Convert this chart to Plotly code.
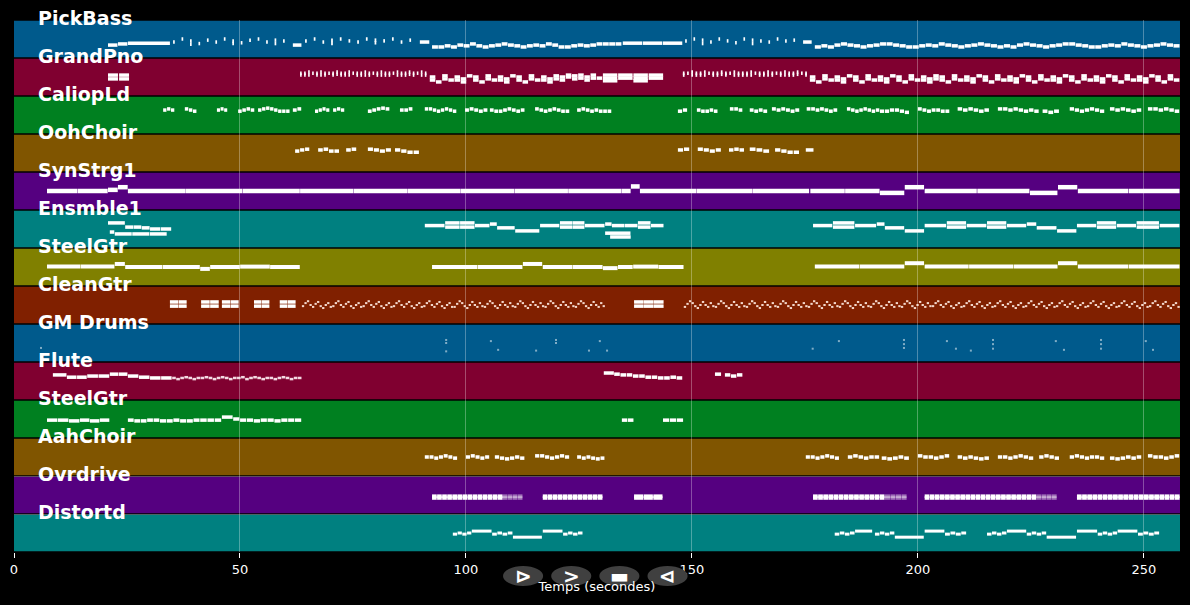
import plotly.graph_objects as go

# ---------------- data ----------------
TRACK_NAMES = ["PickBass", "GrandPno", "CaliopLd", "OohChoir", "SynStrg1", "Ensmble1", "SteelGtr",
               "CleanGtr", "GM Drums", "Flute", "SteelGtr", "AahChoir", "Ovrdrive", "Distortd"]
BAND_COLORS = ["#005a8c", "#800030", "#008020", "#805500", "#550080", "#008080", "#808000",
               "#802000", "#005a8c", "#800030", "#008020", "#805500", "#550080", "#008080"]
X_MAX = 258
X_TICKS = [0, 50, 100, 150, 200, 250]
X_TITLE = "Temps (secondes)"
BUTTON_LABELS = ["⊳", ">", "▬", "⊲"]

# phrases: (start s, end s, fill, pitches) ; pitch = height inside band (0..1), list = chord, None = rest
BASS_RUN_A = [0.29, 0.29, 0.32, 0.29, 0.34, 0.32, 0.37, 0.32, 0.29, 0.32, 0.34, 0.37, 0.34, 0.32, 0.29,
              0.32, 0.34, 0.32, 0.37, 0.34, 0.29, 0.29, 0.32, 0.34, 0.32, 0.34, 0.37, 0.37, 0.37, 0.37]
BASS_RUN_B = [0.29, 0.32, 0.29, 0.34, 0.37, 0.34, 0.32, 0.29, 0.32, 0.34, 0.37, 0.37, 0.34, 0.32,
              0.29, 0.29, 0.32, 0.34, 0.32, 0.37, 0.34, 0.32, 0.29, 0.32, 0.34, 0.37, 0.34, 0.32,
              0.29, 0.32, 0.29, 0.34, 0.37, 0.34, 0.32, 0.29, 0.32, 0.34, 0.37, 0.37, 0.34, 0.32,
              0.29, 0.29, 0.32, 0.34, 0.32, 0.37, 0.34, 0.32, 0.29, 0.32, 0.34, 0.37, 0.34, 0.32]
PICKBASS = [
    (20.8, 25.2, 0.95, [0.34, 0.37]),
    (25.2, 34.5, 1.0, [0.39]),
    (35.2, 61.4, 0.2, [0.42, 0.5, [0.45, 0.36], 0.38, 0.47, 0.42, 0.5, [0.45, 0.38], 0.4, 0.47, 0.5, 0.42, [0.47, 0.38], 0.45]),
    (61.7, 63.7, 0.95, [0.34]),
    (64.4, 89.4, 0.2, [0.45, 0.5, 0.42, [0.47, 0.38], 0.5, 0.45, 0.42, 0.5, [0.47, 0.4], 0.45, 0.5, 0.42, 0.47]),
    (89.8, 92.0, 0.95, [0.42]),
    (92.5, 134.5, 0.93, BASS_RUN_A),
    (134.7, 148.0, 0.97, [0.39, 0.39, 0.39]),
    (148.5, 174.3, 0.2, [0.45, 0.5, [0.47, 0.38], 0.42, 0.5, 0.45, 0.4, 0.5, [0.47, 0.38], 0.45, 0.42, 0.5, 0.45, 0.47]),
    (174.6, 176.6, 0.95, [0.42]),
    (177.2, 258.0, 0.93, BASS_RUN_B),
]

PNO_TICKS_A = [[0.6, 0.55], [0.6, 0.55], [0.63, 0.55], [0.6], [0.6, 0.55], [0.63, 0.55], [0.6, 0.55], [0.6],
               [0.6, 0.55], [0.63, 0.57], [0.6, 0.55], [0.6, 0.55], [0.63, 0.55], [0.6], [0.6, 0.55], [0.6, 0.55],
               [0.63, 0.55], [0.6, 0.55], [0.6], [0.6, 0.55], [0.63, 0.55], [0.6, 0.55], [0.6, 0.55], [0.6],
               [0.63, 0.55], [0.6, 0.55], [0.6, 0.55], [0.63, 0.57], [0.6, 0.55], [0.6], [0.63, 0.55], [0.6, 0.55]]
PNO_TICKS_B = [[0.6, 0.55], [0.6], [0.63, 0.55], [0.6, 0.55], [0.6, 0.55], [0.63, 0.55], [0.6], [0.6, 0.55],
               [0.6, 0.55], [0.63, 0.57], [0.6, 0.55], [0.6], [0.63, 0.55], [0.6, 0.55], [0.6, 0.55], [0.6, 0.55],
               [0.63, 0.55], [0.6], [0.6, 0.55], [0.6, 0.55], [0.63, 0.55], [0.6, 0.55], [0.6], [0.6, 0.55],
               [0.63, 0.55], [0.6, 0.55], [0.6, 0.55], [0.63, 0.57], [0.6], [0.6, 0.55]]
PNO_CHORDS_A = [[0.5, 0.42], [0.37], [0.45, 0.53], [0.42], [0.5, 0.42], [0.37, 0.45], [0.53], [0.42, 0.5],
                [0.37], [0.45, 0.53], [0.42], [0.5, 0.42], [0.37, 0.45], [0.53], [0.42, 0.5], [0.37],
                [0.45, 0.53], [0.42], [0.5, 0.42], [0.37, 0.45], [0.53, 0.45], [0.42, 0.5], [0.5, 0.55],
                [0.45, 0.53], [0.55, 0.47], [0.5, 0.42], [0.55, 0.47], [0.47]]
PNO_CHORDS_B = [[0.5, 0.42], [0.37], [0.45, 0.53], [0.42], [0.5, 0.42], [0.37, 0.45], [0.53], [0.42, 0.5],
                [0.37], [0.45, 0.53], [0.42], [0.5, 0.42], [0.37, 0.45], [0.53], [0.42, 0.5], [0.37],
                [0.45, 0.53], [0.42], [0.5, 0.42], [0.37, 0.45], [0.53, 0.45], [0.42, 0.5], [0.37], [0.45, 0.53],
                [0.42], [0.5, 0.42], [0.37, 0.45], [0.53], [0.42, 0.5], [0.37], [0.45, 0.53], [0.42],
                [0.5, 0.42], [0.37, 0.45], [0.53], [0.42, 0.5], [0.37], [0.45, 0.53], [0.42], [0.5, 0.42],
                [0.37, 0.45], [0.53], [0.42, 0.5], [0.37], [0.45, 0.53], [0.42], [0.5, 0.42], [0.37, 0.45],
                [0.53], [0.42, 0.5], [0.37], [0.45, 0.53], [0.42], [0.5, 0.42], [0.37, 0.45], [0.53],
                [0.42, 0.5], [0.37], [0.45, 0.53], [0.42]]
GRANDPNO = [
    (20.8, 25.7, 0.9, [[0.55, 0.45], [0.55, 0.45]]),
    (63.3, 91.8, 0.4, PNO_TICKS_A),
    (92.0, 130.3, 0.9, PNO_CHORDS_A),
    (130.3, 143.8, 0.95, [[0.55, 0.47, 0.4], [0.55, 0.47], [0.55, 0.47, 0.4], [0.55, 0.47]]),
    (148.0, 176.0, 0.4, PNO_TICKS_B),
    (176.1, 258.0, 0.9, PNO_CHORDS_B),
]

CALIOPLD = [
    (33.0, 35.6, 0.85, [0.63, 0.66, 0.63]),
    (37.8, 40.5, 0.85, [0.66, 0.63, 0.6]),
    (44.9, 47.3, 0.85, [0.63, 0.66, 0.63]),
    (49.6, 53.3, 0.85, [0.6, 0.63, 0.66, 0.63]),
    (54.0, 61.1, 0.85, [0.63, 0.66, 0.68, 0.66, 0.63, 0.6, 0.6, 0.6]),
    (61.7, 63.7, 0.85, [0.63, 0.66]),
    (66.6, 69.9, 0.85, [0.6, 0.63, 0.66, 0.63]),
    (70.6, 73.2, 0.85, [0.63, 0.66, 0.63]),
    (78.3, 83.2, 0.85, [0.6, 0.63, 0.66, 0.68, 0.66]),
    (85.4, 88.3, 0.85, [0.63, 0.63, 0.66]),
    (90.9, 98.0, 0.85, [0.66, 0.66, 0.63, 0.6, 0.63, 0.66, 0.63, 0.6]),
    (99.8, 104.9, 0.85, [0.63, 0.66, 0.63, 0.6, 0.63]),
    (105.3, 113.1, 0.85, [0.63, 0.6, 0.6, 0.63, 0.66, 0.63, 0.6, 0.63]),
    (115.3, 123.0, 0.85, [0.66, 0.63, 0.6, 0.63, 0.66, 0.63, 0.6, 0.6]),
    (124.6, 132.3, 0.85, [0.63, 0.66, 0.63, 0.6, 0.63, 0.6, 0.6, 0.6]),
    (146.9, 149.1, 0.85, [0.6, 0.63]),
    (151.1, 155.8, 0.85, [0.63, 0.6, 0.6, 0.63, 0.6]),
    (158.4, 161.3, 0.85, [0.66, 0.66, 0.63]),
    (162.8, 166.8, 0.85, [0.63, 0.6, 0.63, 0.6]),
    (167.7, 173.9, 0.85, [0.66, 0.63, 0.66, 0.63, 0.6, 0.63]),
    (175.4, 182.3, 0.85, [0.66, 0.66, 0.63, 0.66, 0.63, 0.6, 0.63]),
    (184.3, 191.6, 0.85, [0.66, 0.63, 0.6, 0.63, 0.66, 0.63, 0.6, 0.63]),
    (191.6, 198.2, 0.85, [0.6, 0.6, 0.63, 0.63, 0.6, 0.57]),
    (200.0, 207.1, 0.85, [0.66, 0.63, 0.6, 0.63, 0.63, 0.6, 0.6]),
    (208.8, 215.9, 0.85, [0.66, 0.63, 0.66, 0.63, 0.6, 0.63]),
    (217.7, 226.9, 0.85, [0.66, 0.66, 0.63, 0.66, 0.63, 0.6, 0.63, 0.6]),
    (227.6, 231.4, 0.85, [0.6, 0.57, 0.6]),
    (233.6, 241.4, 0.85, [0.66, 0.63, 0.6, 0.63, 0.66, 0.63, 0.6]),
    (242.5, 249.6, 0.85, [0.66, 0.63, 0.66, 0.63, 0.6, 0.63]),
    (250.9, 258.0, 0.85, [0.66, 0.66, 0.63, 0.66, 0.63, 0.6]),
]

OOHCHOIR = [
    (62.2, 65.5, 0.85, [0.55, 0.58, 0.6]),
    (67.3, 72.1, 0.85, [0.58, 0.6, 0.55, 0.55]),
    (73.5, 75.9, 0.85, [0.58, 0.6]),
    (78.3, 83.6, 0.85, [0.6, 0.58, 0.55, 0.58]),
    (84.3, 89.8, 0.85, [0.58, 0.55, 0.52, 0.52]),
    (146.9, 149.6, 0.85, [0.58, 0.6]),
    (151.3, 156.6, 0.85, [0.6, 0.58, 0.55, 0.58]),
    (158.2, 161.7, 0.85, [0.58, 0.6, 0.58]),
    (162.8, 167.3, 0.85, [0.6, 0.58, 0.55]),
    (168.4, 173.9, 0.85, [0.58, 0.55, 0.52, 0.52]),
    (175.2, 177.2, 0.85, [0.58]),
]

SYNSTRG1 = [
    (7.3, 20.8, 0.99, [0.5, 0.5]),
    (20.8, 25.2, 0.98, [0.53, 0.6]),
    (25.2, 63.3, 0.995, [0.5, 0.5, 0.5]),
    (63.3, 134.5, 0.995, [0.5, 0.5, 0.5, 0.5, 0.5, 0.5]),
    (134.5, 138.5, 0.97, [0.5, 0.62]),
    (138.5, 176.0, 0.995, [0.5, 0.5, 0.5]),
    (176.2, 191.6, 0.99, [0.5, 0.5]),
    (191.6, 197.1, 0.98, [0.45]),
    (197.1, 201.5, 0.97, [0.6]),
    (201.5, 224.8, 0.99, [0.5, 0.5]),
    (224.8, 231.0, 0.98, [0.45]),
    (231.0, 235.4, 0.97, [0.6]),
    (235.4, 258.0, 0.99, [0.5, 0.5]),
]

ENSMBLE1 = [
    (20.8, 24.6, 0.98, [0.66]),
    (24.6, 30.1, 0.95, [0.55, 0.55, 0.53]),
    (30.1, 34.9, 0.95, [0.5, 0.5]),
    (21.2, 22.3, 0.9, [0.42]),
    (22.3, 33.9, 0.97, [0.37, 0.37, 0.37]),
    (90.9, 95.4, 0.97, [0.59]),
    (95.4, 102.0, 0.97, [[0.66, 0.55], [0.66, 0.55]]),
    (102.0, 105.3, 0.97, [0.59]),
    (105.3, 106.9, 0.95, [0.63]),
    (106.9, 110.9, 0.97, [0.53]),
    (110.9, 116.4, 0.97, [0.45]),
    (116.4, 120.8, 0.97, [0.59]),
    (120.8, 126.3, 0.97, [[0.66, 0.55], [0.66, 0.55]]),
    (126.3, 130.8, 0.97, [0.59]),
    (130.8, 132.3, 0.95, [0.63]),
    (132.3, 143.8, 0.97, [0.59, 0.59, [0.66, 0.55], 0.59]),
    (130.8, 136.7, 0.95, [0.39]),
    (131.9, 136.7, 0.95, [0.29]),
    (176.8, 181.2, 0.97, [0.59]),
    (181.2, 186.1, 0.97, [[0.66, 0.55]]),
    (186.1, 190.9, 0.97, [0.59]),
    (190.9, 192.7, 0.95, [0.63]),
    (192.7, 197.1, 0.97, [0.53]),
    (197.1, 201.5, 0.97, [0.45]),
    (201.5, 206.4, 0.97, [0.59]),
    (206.4, 210.8, 0.97, [[0.66, 0.55]]),
    (210.8, 215.3, 0.97, [0.59]),
    (215.3, 219.7, 0.97, [[0.66, 0.55]]),
    (219.7, 224.1, 0.97, [0.59]),
    (224.1, 226.3, 0.95, [0.63]),
    (226.3, 230.8, 0.97, [0.53]),
    (230.8, 235.2, 0.97, [0.45]),
    (235.2, 239.6, 0.97, [0.59]),
    (239.6, 244.0, 0.97, [[0.66, 0.55]]),
    (244.0, 248.4, 0.97, [0.59]),
    (248.4, 253.5, 0.97, [[0.66, 0.55]]),
    (253.5, 258.0, 0.97, [0.59]),
]

STEELGTR1 = [
    (7.3, 22.3, 0.99, [0.51, 0.51]),
    (22.3, 24.6, 0.97, [0.58]),
    (24.6, 41.2, 0.99, [0.5, 0.5]),
    (41.2, 43.4, 0.97, [0.45]),
    (43.4, 63.3, 0.99, [0.5, 0.51, 0.5]),
    (92.5, 112.6, 0.99, [0.5, 0.5]),
    (112.6, 117.0, 0.97, [0.58]),
    (117.0, 130.3, 0.99, [0.5, 0.5]),
    (130.3, 137.0, 0.97, [0.47, 0.5]),
    (137.0, 148.2, 0.99, [0.51, 0.5]),
    (177.2, 197.1, 0.99, [0.51, 0.51]),
    (197.1, 201.5, 0.97, [0.6]),
    (201.5, 231.0, 0.99, [0.51, 0.51, 0.51]),
    (231.0, 235.4, 0.97, [0.6]),
    (235.4, 258.0, 0.99, [0.51, 0.51]),
]

CLEAN_BLOCKS = [
    (34.5, 38.3, 0.95, [[0.58, 0.47], [0.58, 0.47]]),
    (41.4, 45.4, 0.95, [[0.58, 0.47], [0.58, 0.47]]),
    (46.0, 49.8, 0.95, [[0.58, 0.47], [0.58, 0.47]]),
    (53.1, 56.6, 0.95, [[0.58, 0.47], [0.58, 0.47]]),
    (58.8, 62.4, 0.95, [[0.58, 0.47], [0.58, 0.47]]),
    (137.2, 143.8, 0.97, [[0.58, 0.47], [0.58, 0.47], [0.58, 0.47]]),
]
CLEAN_RIFF_A = [0.47, 0.55, 0.6, 0.5, 0.45, 0.53, 0.58, 0.47, 0.42, 0.5, 0.55, 0.45]
CLEAN_RIFF_B = [0.45, 0.53, 0.6, 0.55, 0.47, 0.42, 0.5, 0.58, 0.5, 0.45, 0.55, 0.47]
CLEAN_RIFF = [
    (63.7, 130.8, 0.9, CLEAN_RIFF_A * 5 + CLEAN_RIFF_B * 5),
    (148.2, 258.0, 0.9, CLEAN_RIFF_B * 8 + CLEAN_RIFF_A * 8),
]

DRUM_HITS = [
    (5.75, [0.37]), (95.4, [0.58, 0.5, 0.28]), (105.3, [0.55]), (106.9, [0.32]), (115.3, [0.3]),
    (119.7, [0.58, 0.5]), (127.0, [0.3]), (129.4, [0.55]), (131.0, [0.3]),
    (176.5, [0.35]), (182.3, [0.55]), (196.7, [0.58, 0.47, 0.37]), (206.2, [0.55]), (208.2, [0.35]),
    (211.5, [0.3]), (216.4, [0.58, 0.47, 0.35]), (230.3, [0.55]), (232.1, [0.32]),
    (240.3, [0.58, 0.47, 0.35]), (250.2, [0.55]), (251.8, [0.32]),
]

FLUTE = [
    (8.6, 11.7, 0.97, [0.66]),
    (11.7, 16.2, 0.95, [0.6, 0.6]),
    (16.2, 21.2, 0.95, [0.63, 0.63]),
    (21.2, 25.2, 0.95, [0.68, 0.68]),
    (25.2, 30.1, 0.95, [0.63, 0.6]),
    (30.1, 35.0, 0.95, [0.58, 0.58]),
    (130.5, 132.8, 0.97, [0.71]),
    (132.8, 148.0, 0.9, [0.68, 0.66, 0.66, 0.63, 0.63, 0.6, 0.6, 0.58, 0.58, 0.6, 0.58]),
    (155.1, 156.6, 0.9, [0.68]),
    (157.3, 161.3, 0.9, [0.66, 0.63, 0.66]),
]
FLUTE_RUN = [
    (35.0, 63.7, 0.9, [0.58, 0.55, 0.58, 0.6, 0.58, 0.55, 0.58, 0.58, 0.6, 0.58, 0.55, 0.58, 0.6, 0.58,
                       0.55, 0.58, 0.58, 0.6, 0.55, 0.58, 0.6, 0.58, 0.55, 0.58, 0.58, 0.55, 0.58, 0.6,
                       0.58, 0.55, 0.58, 0.58]),
]

STEELGTR2 = [
    (7.3, 14.6, 0.95, [0.47, 0.47, 0.45]),
    (14.6, 21.2, 0.95, [0.47, 0.45, 0.47]),
    (25.2, 32.3, 0.9, [0.47, 0.45, 0.45, 0.47, 0.47]),
    (32.3, 41.2, 0.9, [0.45, 0.45, 0.47, 0.45, 0.45, 0.47]),
    (41.2, 46.0, 0.9, [0.47, 0.47, 0.47]),
    (46.0, 48.5, 0.95, [0.55]),
    (48.5, 63.7, 0.9, [0.5, 0.47, 0.47, 0.45, 0.47, 0.47, 0.45, 0.47, 0.47, 0.47]),
    (134.5, 137.2, 0.9, [0.47, 0.47]),
    (143.6, 148.2, 0.9, [0.47, 0.47, 0.47]),
]

AAHCHOIR = [
    (90.9, 98.2, 0.85, [0.5, 0.5, 0.47, 0.5, 0.53, 0.5, 0.47]),
    (100.0, 105.3, 0.85, [0.5, 0.53, 0.5, 0.47, 0.5]),
    (106.4, 113.1, 0.85, [0.5, 0.47, 0.45, 0.47, 0.5, 0.47]),
    (115.3, 123.0, 0.85, [0.53, 0.53, 0.5, 0.47, 0.5, 0.53, 0.5]),
    (124.6, 130.8, 0.85, [0.5, 0.47, 0.5, 0.47, 0.45, 0.47]),
    (175.2, 182.7, 0.85, [0.5, 0.5, 0.47, 0.5, 0.53, 0.5, 0.47]),
    (184.5, 191.6, 0.85, [0.5, 0.53, 0.5, 0.47, 0.5, 0.5]),
    (192.0, 198.2, 0.85, [0.47, 0.45, 0.47, 0.5, 0.47]),
    (200.0, 207.1, 0.85, [0.53, 0.5, 0.5, 0.47, 0.5, 0.53]),
    (208.8, 215.9, 0.85, [0.5, 0.47, 0.5, 0.47, 0.45, 0.47]),
    (217.7, 231.4, 0.85, [0.5, 0.5, 0.47, 0.5, 0.53, 0.5, 0.47, None, 0.5, 0.53, 0.5, 0.47]),
    (233.6, 241.4, 0.85, [0.5, 0.53, 0.5, 0.47, 0.5, 0.5, 0.47]),
    (242.5, 249.6, 0.85, [0.47, 0.45, 0.47, 0.5, 0.47, 0.5]),
    (250.9, 258.0, 0.85, [0.53, 0.5, 0.5, 0.47, 0.5, 0.53]),
]

POWER = [0.47, 0.42]
OVRDRIVE = [
    (92.5, 108.2, 0.92, [POWER] * 14),
    (117.0, 130.3, 0.92, [POWER] * 12),
    (137.2, 143.6, 0.95, [POWER] * 3),
    (176.8, 192.7, 0.92, [POWER] * 14),
    (201.5, 226.3, 0.92, [POWER] * 22),
    (235.2, 258.0, 0.92, [POWER] * 20),
]
OVRDRIVE_SOFT = [
    (108.2, 112.6, 0.92, [POWER] * 4),
    (192.7, 197.6, 0.92, [POWER] * 4),
    (226.3, 230.8, 0.92, [POWER] * 4),
]

DISTORTD = [
    (97.1, 101.3, 0.9, [0.47, 0.5, 0.47, 0.5]),
    (101.3, 105.8, 0.97, [0.55]),
    (105.8, 110.4, 0.9, [0.47, 0.5, 0.47, 0.5]),
    (110.4, 117.0, 0.97, [0.39]),
    (117.0, 121.5, 0.97, [0.55]),
    (121.5, 125.9, 0.9, [0.47, 0.5, 0.47, 0.5]),
    (181.6, 186.1, 0.9, [0.47, 0.5, 0.47, 0.5]),
    (186.1, 190.0, 0.97, [0.55]),
    (190.5, 194.9, 0.9, [0.47, 0.5, 0.47, 0.5]),
    (194.9, 201.5, 0.97, [0.39]),
    (201.5, 206.0, 0.97, [0.55]),
    (206.0, 210.8, 0.9, [0.47, 0.5, 0.47, 0.5]),
    (215.3, 219.7, 0.9, [0.47, 0.5, 0.47, 0.5]),
    (219.7, 224.1, 0.97, [0.55]),
    (224.1, 228.5, 0.9, [0.47, 0.5, 0.47, 0.5]),
    (228.5, 235.2, 0.97, [0.39]),
    (235.2, 239.8, 0.97, [0.55]),
    (239.8, 244.2, 0.9, [0.47, 0.5, 0.47, 0.5]),
    (244.2, 248.7, 0.97, [0.55]),
    (248.7, 253.5, 0.9, [0.47, 0.5, 0.47, 0.5]),
]

# ---------------- build ----------------
N = len(TRACK_NAMES)
DRUMS = [(t, t + 0.45, 1.0, [chord]) for t, chord in DRUM_HITS]

# (track index, phrases, line width, colour)
LAYERS = [
    (0, PICKBASS, 3.5, "white"),
    (1, GRANDPNO, 3.5, "white"),
    (2, CALIOPLD, 3.5, "white"),
    (3, OOHCHOIR, 3.5, "white"),
    (4, SYNSTRG1, 4.5, "white"),
    (5, ENSMBLE1, 3.5, "white"),
    (6, STEELGTR1, 4, "white"),
    (7, CLEAN_BLOCKS, 3.5, "white"),
    (7, CLEAN_RIFF, 2, "rgba(255,235,225,0.9)"),
    (8, DRUMS, 2, "rgba(255,255,255,0.5)"),
    (9, FLUTE, 3.5, "white"),
    (9, FLUTE_RUN, 2.5, "rgba(255,240,245,0.9)"),
    (10, STEELGTR2, 3.5, "white"),
    (11, AAHCHOIR, 3.5, "white"),
    (12, OVRDRIVE, 3.5, "white"),
    (12, OVRDRIVE_SOFT, 3.5, "rgba(255,255,255,0.45)"),
    (13, DISTORTD, 3, "white"),
]


def note_xy(phrases, base):
    xs, ys = [], []
    for start, end, fill, pitches in phrases:
        slot = (end - start) / len(pitches)
        for i, p in enumerate(pitches):
            if p is None:
                continue
            chord = p if isinstance(p, list) else [p]
            x0 = start + i * slot
            x1 = x0 + slot * fill
            for q in chord:
                xs += [x0, x1, None]
                ys += [base + q, base + q, None]
    return xs, ys


fig = go.Figure()
for k, phrases, width, color in LAYERS:
    base = N - 1 - k
    xs, ys = note_xy(phrases, base)
    fig.add_trace(go.Scatter(x=xs, y=ys, mode="lines", line=dict(color=color, width=width),
                             hoverinfo="skip", showlegend=False))

shapes = []
annotations = []
for k, (name, col) in enumerate(zip(TRACK_NAMES, BAND_COLORS)):
    base = N - 1 - k
    shapes.append(dict(type="rect", xref="x", yref="y", x0=0, x1=X_MAX, y0=base + 0.02, y1=base + 0.98,
                       fillcolor=col, line=dict(width=0), layer="below"))
    annotations.append(dict(x=4.9, y=base + 1, xref="x", yref="y", text="<b>%s</b>" % name,
                            showarrow=False, xanchor="left", yanchor="middle", yshift=2,
                            font=dict(size=19, color="white", family="DejaVu Sans")))

# player buttons below the axis
for i, lab in enumerate(BUTTON_LABELS):
    cx = 0.4366 + i * 0.0413
    shapes.append(dict(type="circle", xref="paper", yref="paper", x0=cx - 0.0172, x1=cx + 0.0172,
                       y0=-0.0639, y1=-0.0263, fillcolor="#404040", line=dict(width=0), layer="above"))
    annotations.append(dict(x=cx, y=-0.045, xref="paper", yref="paper", text="<b>%s</b>" % lab,
                            showarrow=False, xanchor="center", yanchor="middle",
                            font=dict(size=20, color="white", family="DejaVu Sans")))

fig.update_layout(
    width=1190, height=605,
    margin=dict(l=14, r=10, t=20, b=53),
    paper_bgcolor="black", plot_bgcolor="black",
    font=dict(family="DejaVu Sans", color="white", size=13),
    showlegend=False,
    shapes=shapes, annotations=annotations,
    xaxis=dict(range=[0, X_MAX], tickvals=X_TICKS, ticks="outside", ticklen=5, tickcolor="white",
               showgrid=True, gridcolor="rgba(255,255,255,0.3)", gridwidth=1, zeroline=False,
               showline=False, title=dict(text=X_TITLE, standoff=6, font=dict(size=13)),
               tickfont=dict(size=13, color="white")),
    yaxis=dict(range=[0, N], tickvals=[0, 1, 2, N], showticklabels=False, ticks="",
               showgrid=True, gridcolor="rgba(255,255,255,0.3)", zeroline=False, showline=False),
)

fig.write_html("out.html")
